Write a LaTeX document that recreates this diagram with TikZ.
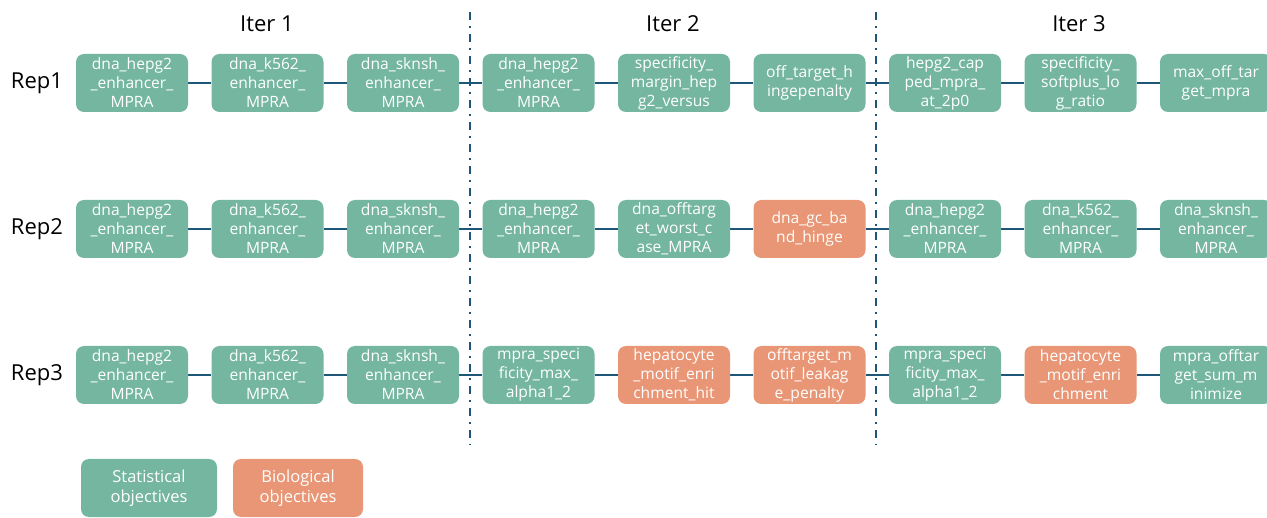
\documentclass[tikz,border=0pt]{standalone}
\usepackage{fontspec}
\setmainfont{Open Sans}
\usepackage{tikz}
\usetikzlibrary{positioning,backgrounds}

\definecolor{statgreen}{RGB}{116,182,160}
\definecolor{bioorange}{RGB}{232,150,117}
\definecolor{linkblue}{RGB}{30,86,122}

\tikzset{
  objbox/.style={rounded corners=8pt, minimum width=112pt, minimum height=58pt,
    text width=111pt, align=center, inner sep=0pt, text=white,
    font=\fontsize{15.6}{19}\selectfont},
  stat/.style={objbox, fill=statgreen},
  bio/.style={objbox, fill=bioorange},
  link/.style={linkblue, line width=1.8pt},
  itersep/.style={linkblue, line width=2pt, dash pattern=on 8pt off 6pt on 2pt off 6pt},
  rowlabel/.style={font=\fontsize{22}{26}\selectfont},
}

\begin{document}
\begin{tikzpicture}[x=1pt,y=1pt,yscale=-1,xscale=1]
\useasboundingbox (0,0) rectangle (1267,518);

% Iteration headers
\node[rowlabel] (iter1) at (267,24) {Iter 1};
\node[rowlabel] (iter2) at (673,24) {Iter 2};
\node[rowlabel] (iter3) at (1079,24) {Iter 3};

% Replicate labels
\node[rowlabel] (rep1) at (37,83) {Rep1};
\node[rowlabel] (rep2) at (37,229) {Rep2};
\node[rowlabel] (rep3) at (37,375) {Rep3};

% Rep1 row
\foreach \c/\s/\t in {
  1/stat/{dna\_hepg2\\\_enhancer\_\\MPRA},
  2/stat/{dna\_k562\_\\enhancer\_\\MPRA},
  3/stat/{dna\_sknsh\_\\enhancer\_\\MPRA},
  4/stat/{dna\_hepg2\\\_enhancer\_\\MPRA},
  5/stat/{specificity\_\\margin\_hep\\g2\_versus},
  6/stat/{off\_target\_h\\ingepenalty},
  7/stat/{hepg2\_cap\\ped\_mpra\_\\at\_2p0},
  8/stat/{specificity\_\\softplus\_lo\\g\_ratio},
  9/stat/{max\_off\_tar\\get\_mpra}}
  \node[\s] (box-1-\c) at ({132+135.5*(\c-1)},83) {\t};

% Rep2 row
\foreach \c/\s/\t in {
  1/stat/{dna\_hepg2\\\_enhancer\_\\MPRA},
  2/stat/{dna\_k562\_\\enhancer\_\\MPRA},
  3/stat/{dna\_sknsh\_\\enhancer\_\\MPRA},
  4/stat/{dna\_hepg2\\\_enhancer\_\\MPRA},
  5/stat/{dna\_offtarg\\et\_worst\_c\\ase\_MPRA},
  6/bio/{dna\_gc\_ba\\nd\_hinge},
  7/stat/{dna\_hepg2\\\_enhancer\_\\MPRA},
  8/stat/{dna\_k562\_\\enhancer\_\\MPRA},
  9/stat/{dna\_sknsh\_\\enhancer\_\\MPRA}}
  \node[\s] (box-2-\c) at ({132+135.5*(\c-1)},229) {\t};

% Rep3 row
\foreach \c/\s/\t in {
  1/stat/{dna\_hepg2\\\_enhancer\_\\MPRA},
  2/stat/{dna\_k562\_\\enhancer\_\\MPRA},
  3/stat/{dna\_sknsh\_\\enhancer\_\\MPRA},
  4/stat/{mpra\_speci\\ficity\_max\_\\alpha1\_2},
  5/bio/{hepatocyte\\\_motif\_enri\\chment\_hit},
  6/bio/{offtarget\_m\\otif\_leakag\\e\_penalty},
  7/stat/{mpra\_speci\\ficity\_max\_\\alpha1\_2},
  8/bio/{hepatocyte\\\_motif\_enri\\chment},
  9/stat/{mpra\_offtar\\get\_sum\_m\\inimize}}
  \node[\s] (box-3-\c) at ({132+135.5*(\c-1)},375) {\t};

% links along each row, kept behind the boxes
\begin{scope}[on background layer]
\foreach \r in {1,2,3}
  \foreach \a/\b in {1/2,2/3,3/4,4/5,5/6,6/7,7/8,8/9}
    \draw[link] (box-\r-\a.east) -- (box-\r-\b.west);
\end{scope}

% iteration separators
\coordinate (sepA top) at (470,12);
\coordinate (sepA bot) at (470,445);
\coordinate (sepB top) at (876,12);
\coordinate (sepB bot) at (876,445);
\draw[itersep] (sepA top) -- (sepA bot);
\draw[itersep] (sepB top) -- (sepB bot);

% Legend
\node[stat, minimum width=136pt, text width=130pt, font=\fontsize{16.5}{20}\selectfont] (legstat) at (149,488) {Statistical\\objectives};
\node[bio, minimum width=130pt, text width=126pt, font=\fontsize{16.5}{20}\selectfont] (legbio) at (298,488) {Biological\\objectives};

\end{tikzpicture}
\end{document}
